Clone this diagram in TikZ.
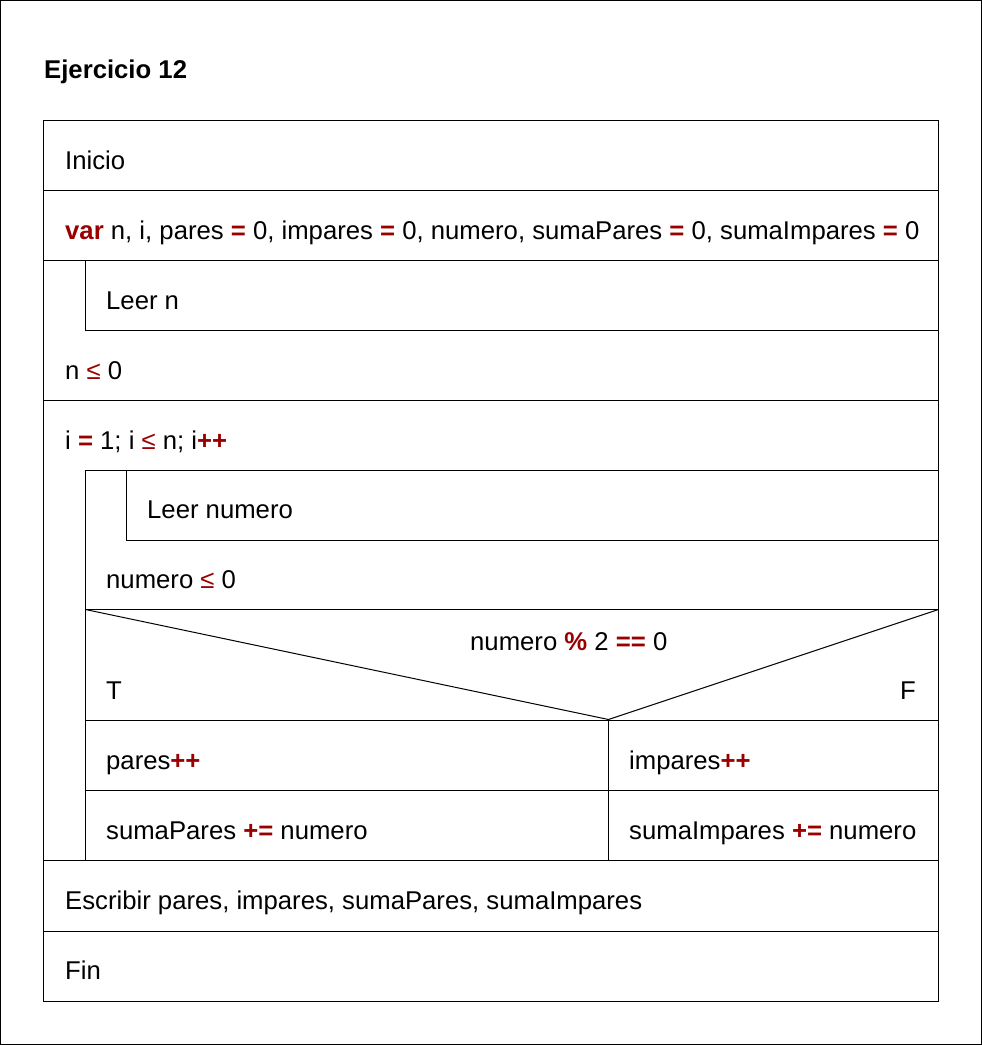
\documentclass[tikz,border=0pt]{standalone}
\usepackage{fontspec}
\setmainfont{Liberation Sans}
\definecolor{kw}{HTML}{990000}
\newcommand{\opb}[1]{\textcolor{kw}{\textbf{#1}}}
\newcommand{\opleq}{\textcolor{kw}{≤}}
\begin{document}
\begin{tikzpicture}[x=1pt,y=-1pt,
  txt/.style={anchor=base west, inner sep=0pt, font=\fontsize{25.7}{30}\selectfont},
  ln/.style={line width=1pt, black}]
\useasboundingbox (0,0) rectangle (982,1045);
\draw[ln] (0.5,0.5) rectangle (981.5,1044.5);
% main box
\draw[ln] (43.5,120.5) rectangle (938.5,1001.5);
% horizontal separators
\draw[ln] (43.5,190.5) -- (938.5,190.5);
\draw[ln] (43.5,260.5) -- (938.5,260.5);
\draw[ln] (85.5,260.5) -- (85.5,330.5) -- (938.5,330.5);
\draw[ln] (43.5,400.5) -- (938.5,400.5);
\draw[ln] (938.5,470.5) -- (85.5,470.5) -- (85.5,860.5);
\draw[ln] (126.5,470.5) -- (126.5,540.5) -- (938.5,540.5);
\draw[ln] (85.5,609.5) -- (938.5,609.5);
\draw[ln] (85.5,609.5) -- (608.5,719.5) -- (938.5,609.5);
\draw[ln] (85.5,720.5) -- (938.5,720.5);
\draw[ln] (608.5,720.5) -- (608.5,860.5);
\draw[ln] (85.5,790.5) -- (938.5,790.5);
\draw[ln] (43.5,860.5) -- (938.5,860.5);
\draw[ln] (43.5,931.5) -- (938.5,931.5);
% texts
\node[txt, font=\fontsize{25.7}{30}\selectfont\bfseries] (title) at (44,78) {Ejercicio 12};
\node[txt] (inicio) at (65,169) {Inicio};
\node[txt] (var) at (65,239) {\opb{var} n, i, pares \opb{=} 0, impares \opb{=} 0, numero, sumaPares \opb{=} 0, sumaImpares \opb{=} 0};
\node[txt] (leern) at (106,309) {Leer n};
\node[txt] (cond1) at (65,379) {n \opleq{} 0};
\node[txt] (for) at (65,449) {i \opb{=} 1; i \opleq{} n; i\opb{++}};
\node[txt] (leernum) at (147,518) {Leer numero};
\node[txt] (cond2) at (106,588) {numero \opleq{} 0};
\node[txt] (ifc) at (470,650) {numero \opb{\%} 2 \opb{==} 0};
\node[txt] (T) at (106,699) {T};
\node[txt, anchor=base east] (F) at (916,699) {F};
\node[txt] (p1) at (106,769) {pares\opb{++}};
\node[txt] (p2) at (106,839) {sumaPares \opb{+=} numero};
\node[txt] (q1) at (629,769) {impares\opb{++}};
\node[txt] (q2) at (629,839) {sumaImpares \opb{+=} numero};
\node[txt] (esc) at (65,909) {Escribir pares, impares, sumaPares, sumaImpares};
\node[txt] (fin) at (65,979) {Fin};
\end{tikzpicture}
\end{document}
